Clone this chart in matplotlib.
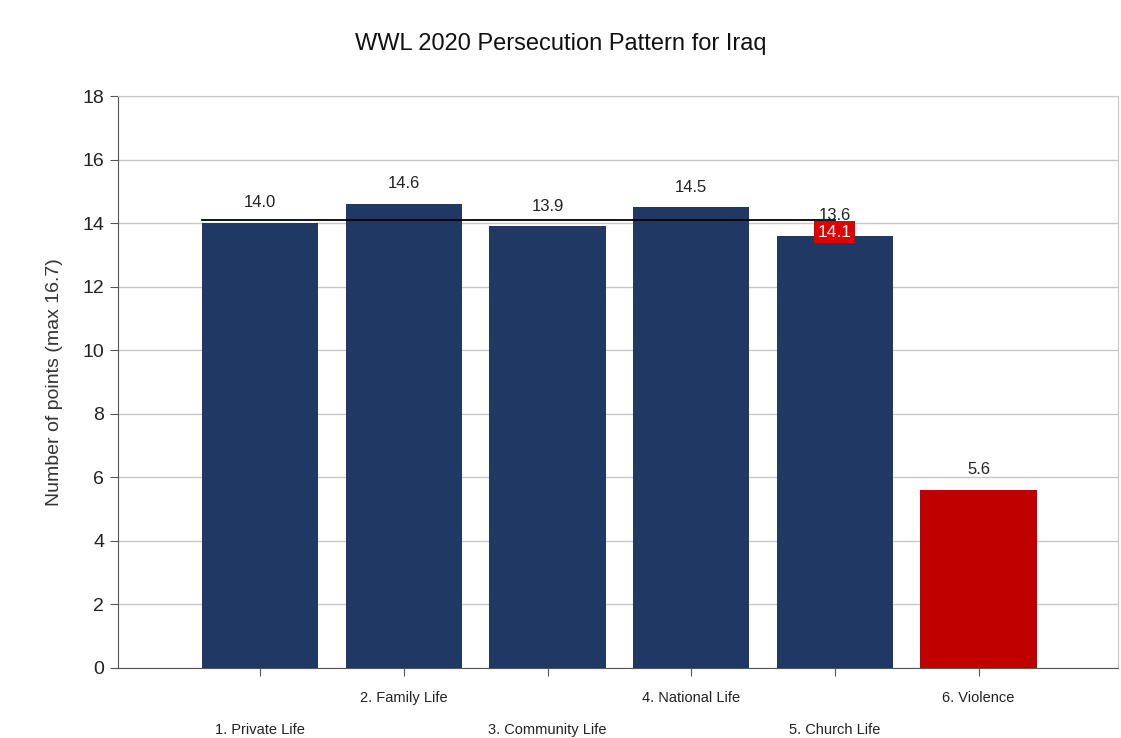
import numpy as np
import matplotlib
matplotlib.use('Agg')
import matplotlib.pyplot as plt

categories = ['1. Private Life', '2. Family Life', '3. Community Life',
              '4. National Life', '5. Church Life', '6. Violence']
values = [14.0, 14.6, 13.9, 14.5, 13.6, 5.6]
average = 14.1
colors = ['#1f3864'] * 5 + ['#c00000']

plt.rcParams['font.family'] = ['Liberation Sans', 'DejaVu Sans']

fig = plt.figure(figsize=(11.21, 7.38), dpi=100)
ax = fig.add_axes([0.1053, 0.0949, 0.892, 0.775])

x = np.arange(1, len(values) + 1)
ax.bar(x, values, width=0.81, color=colors, zorder=3)
for xi, v in zip(x, values):
    ax.text(xi, v + 0.4, f'{v:.1f}', ha='center', va='bottom', fontsize=12, color='#222222', zorder=5)

# average line over the first five blocks
ax.plot([x[0] - 0.405, x[4]], [average, average], color='black', lw=1.3, zorder=4)
ax.text(x[4], average - 0.15, f'{average:.1f}', ha='center', va='top', fontsize=12.5, color='white',
        zorder=6, bbox=dict(boxstyle='square,pad=0.2', fc='#e00000', ec='none'))

ax.set_xlim(0.01, 6.97)
ax.set_ylim(0, 18)
ax.set_yticks(np.arange(0, 19, 2))
ax.tick_params(axis='y', labelsize=14, length=6, color='#555555', pad=4, labelcolor='#222222')
ax.yaxis.grid(True, color='#c8c8c8', lw=1, zorder=0)

ax.set_xticks(x)
ax.set_xticklabels([])
ax.tick_params(axis='x', length=6, color='#555555', direction='out')
for i, (xi, lab) in enumerate(zip(x, categories)):
    yoff = -0.053 if i % 2 == 1 else -0.108
    ax.text(xi, yoff, lab, transform=ax.get_xaxis_transform(), ha='center', va='center',
            fontsize=10.5, color='#222222')

for s in ['left', 'bottom']:
    ax.spines[s].set_color('#555555')
for s in ['top', 'right']:
    ax.spines[s].set_color('#c8c8c8')

ax.set_ylabel('Number of points (max 16.7)', fontsize=14, color='#333333', labelpad=14)
fig.suptitle('WWL 2020 Persecution Pattern for Iraq', fontsize=17, y=0.955, color='#111111')

fig.savefig('out.png', dpi=100)
